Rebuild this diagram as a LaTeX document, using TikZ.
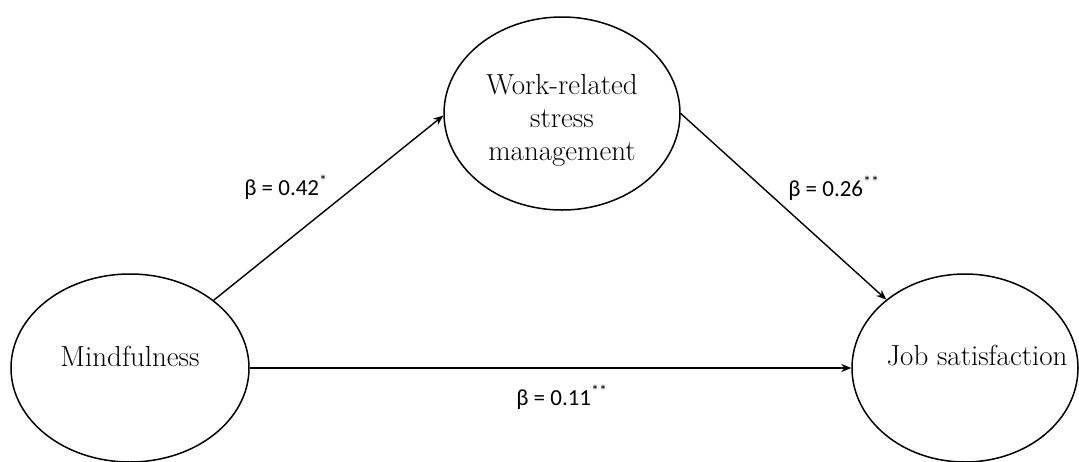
\documentclass[tikz,border=0pt]{standalone}
\usepackage{fontspec}
\newfontfamily\labfont{Carlito}
\usetikzlibrary{shapes.geometric,arrows.meta}
\begin{document}
\begin{tikzpicture}[x=1pt,y=-1pt,
  var/.style={ellipse, draw, line width=1.5pt, inner sep=0pt, align=center,
    font=\fontsize{29}{33}\selectfont},
  link/.style={line width=1.4pt, -{Stealth[length=10pt,width=8pt]}},
  coef/.style={font=\labfont\fontsize{23}{26}\selectfont}]
\useasboundingbox (0,0) rectangle (1079,461);
\node[var, minimum width=238pt, minimum height=188pt] (m) at (130,368)
  {\raisebox{12pt}[\height][\depth]{Mindfulness}};
\node[var, minimum width=236pt, minimum height=193pt] (w) at (562,113.5)
  {\rule{0pt}{34pt}Work-related\\stress\\management};
\node[var, minimum width=226pt, minimum height=188pt] (j) at (965,368)
  {\raisebox{12pt}[\height][\depth]{\makebox[0pt]{\hspace{24pt}Job satisfaction}}};
\draw[link] (m.39) -- (w.181);
\draw[link] (w.east) -- (j.139);
\draw[link] (m.east) -- (j.west);
\node[coef] (b1) at (286,187) {β = 0.42\textsuperscript{*}};
\node[coef] (b2) at (834,188) {β = 0.26\textsuperscript{**}};
\node[coef] (b3) at (562,397) {β = 0.11\textsuperscript{**}};
\end{tikzpicture}
\end{document}
